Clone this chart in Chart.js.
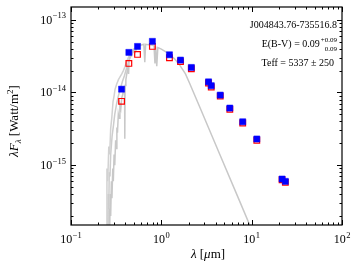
<!DOCTYPE html>
<html>
<head>
<meta charset="utf-8">
<script src="https://cdn.jsdelivr.net/npm/chart.js@4/dist/chart.umd.min.js"></script>
<style>
  html, body { margin: 0; padding: 0; background: #fff; }
  #wrap { width: 354px; height: 266px; }
</style>
</head>
<body>
<div id="wrap"><canvas id="sed" width="354" height="266"></canvas></div>
<script>
// Photometric bands (micron) and fluxes (W/m^2)
const bandWave = [0.363, 0.437, 0.545, 0.796, 1.23, 1.63, 2.15, 3.33, 3.57, 4.49, 5.73, 7.96, 11.4, 21.7, 23.6];
const observedFlux = [1.11e-14, 3.56e-14, 4.3e-14, 5.05e-14, 3.3e-14, 2.79e-14, 2.21e-14, 1.40e-14, 1.24e-14, 9.2e-15, 6.1e-15, 3.95e-15, 2.29e-15, 6.44e-16, 5.98e-16];
const modelFlux = [7.55e-15, 2.51e-14, 3.34e-14, 4.3e-14, 3.0e-14, 2.66e-14, 2.12e-14, 1.35e-14, 1.19e-14, 8.9e-15, 5.85e-15, 3.8e-15, 2.2e-15, 6.3e-16, 5.8e-16];

// Model spectrum (right edge of the grey band, and tail)
const specWave = [0.262, 0.266, 0.268, 0.272, 0.275, 0.280, 0.284, 0.290, 0.294, 0.300, 0.305, 0.312, 0.316, 0.322, 0.327,
  0.334, 0.340, 0.348, 0.356, 0.365, 0.375, 0.385, 0.392, 0.394, 0.397, 0.405, 0.420, 0.430, 0.434, 0.440, 0.450, 0.470, 0.490,
  0.517, 0.535, 0.560, 0.600, 0.640, 0.656, 0.670, 0.720, 0.780, 0.830, 0.850, 0.866, 0.890, 0.915, 0.935, 1.00, 1.17,
  1.40, 1.59, 1.71, 1.85, 2.05, 2.64, 4.43, 7.22, 9.6];
const specFlux = [1.0e-16, 2.5e-16, 1.2e-16, 4.0e-16, 2.0e-16, 6.0e-16, 3.5e-16, 9.0e-16, 6.0e-16, 1.4e-15, 1.0e-15, 2.2e-15, 1.7e-15, 3.3e-15, 2.8e-15,
  5.0e-15, 4.4e-15, 6.8e-15, 6.0e-15, 8.5e-15, 9.5e-15, 1.15e-14, 1.2e-14, 2.3e-15, 1.25e-14, 1.5e-14, 2.0e-14, 2.4e-14, 1.8e-14, 2.8e-14, 3.2e-14, 3.2e-14, 3.9e-14,
  3.6e-14, 4.2e-14, 4.4e-14, 4.5e-14, 4.6e-14, 2.6e-14, 4.6e-14, 4.55e-14, 4.5e-14, 4.4e-14, 2.5e-14, 4.3e-14, 2.3e-14, 4.15e-14, 4.1e-14, 3.95e-14, 3.5e-14,
  2.9e-14, 2.4e-14, 2.1e-14, 1.8e-14, 1.35e-14, 6.45e-15, 1.41e-15, 3.38e-16, 1.46e-16];

// Other grey traces of the band in the UV/blue (left edge, middle)
const spec2Wave = [0.249, 0.250, 0.255, 0.262, 0.268, 0.275, 0.283, 0.292, 0.300, 0.307, 0.320, 0.335, 0.350, 0.365, 0.380, 0.395, 0.420, 0.450, 0.490, 0.530, 0.570];
const spec2Flux = [1.0e-16, 9.0e-16, 6.0e-16, 1.8e-15, 1.4e-15, 3.2e-15, 4.5e-15, 7.5e-15, 9.0e-15, 1.1e-14, 1.3e-14, 1.5e-14, 1.65e-14, 1.8e-14, 2.0e-14, 2.25e-14, 2.8e-14, 3.4e-14, 3.9e-14, 4.2e-14, 4.45e-14];
const spec3Wave = [0.255, 0.258, 0.262, 0.265, 0.270, 0.275, 0.285, 0.295, 0.305, 0.320, 0.335, 0.350, 0.370, 0.390, 0.410, 0.440, 0.480, 0.520];
const spec3Flux = [1.0e-16, 4.0e-16, 2.5e-16, 8.0e-16, 7.0e-16, 1.4e-15, 2.5e-15, 3.5e-15, 5.0e-15, 7.0e-15, 9.0e-15, 1.1e-14, 1.4e-14, 1.7e-14, 2.1e-14, 2.8e-14, 3.5e-14, 4.0e-14];

// Axis limits and labelled ticks
const xLimits = [0.1, 100];
const yLimits = [1.5e-16, 1.5e-13];
const xTickValues = [0.1, 1, 10, 100];
const xTickExps = ['\u22121', '0', '1', '2'];
const yTickValues = [1e-13, 1e-14, 1e-15];
const yTickExps = ['\u221213', '\u221214', '\u221215'];

const SERIF = '"Liberation Serif", "DejaVu Serif", serif';

function pairs(xs, ys) {
    return xs.map((x, i) => ({ x: x, y: ys[i] }));
}

function greyLine(label, xs, ys, colour, order) {
    return {
        label: label,
        type: 'line',
        data: pairs(xs, ys),
        borderColor: colour,
        borderWidth: 1.5,
        pointRadius: 0,
        tension: 0,
        fill: false,
        order: order
    };
}

// Draw "10" with a raised exponent
function drawPower(ctx, exp, x, y, align) {
    ctx.font = '12px ' + SERIF;
    const wBase = ctx.measureText('10').width;
    ctx.font = '8.5px ' + SERIF;
    const wExp = ctx.measureText(exp).width;
    const total = wBase + wExp + 0.5;
    let x0 = x - total / 2;
    if (align === 'right') x0 = x - total;
    ctx.textAlign = 'left';
    ctx.textBaseline = 'alphabetic';
    ctx.font = '12px ' + SERIF;
    ctx.fillText('10', x0, y);
    ctx.font = '8.5px ' + SERIF;
    ctx.fillText(exp, x0 + wBase + 0.5, y - 5.5);
}

// draw a run of [text, font, dy] pieces starting at x
function drawRun(ctx, parts, x, y) {
    parts.forEach(p => {
        ctx.font = p[1] + ' ' + SERIF;
        ctx.fillText(p[0], x, y + (p[2] || 0));
        x += ctx.measureText(p[0]).width;
    });
}

function runWidth(ctx, parts) {
    let w = 0;
    parts.forEach(p => { ctx.font = p[1] + ' ' + SERIF; w += ctx.measureText(p[0]).width; });
    return w;
}

// matplotlib-like frame: inward ticks on every side, labels and titles
const framePlugin = {
    id: 'frame',
    afterDraw(chart) {
        const ctx = chart.ctx;
        const a = chart.chartArea;
        const xs = chart.scales.x;
        const ys = chart.scales.y;
        ctx.save();
        ctx.strokeStyle = '#000';
        ctx.fillStyle = '#000';
        ctx.lineWidth = 1;

        // x ticks
        for (let k = -1; k <= 2; k++) {
            for (let m = 1; m <= 9; m++) {
                const v = m * Math.pow(10, k);
                if (v < xLimits[0] * 0.999 || v > xLimits[1] * 1.001) continue;
                const px = Math.round(xs.getPixelForValue(v)) + 0.5;
                const len = m === 1 ? 5 : 2.5;
                ctx.beginPath();
                ctx.moveTo(px, a.bottom); ctx.lineTo(px, a.bottom - len);
                ctx.moveTo(px, a.top); ctx.lineTo(px, a.top + len);
                ctx.stroke();
            }
        }
        // y ticks
        for (let k = -17; k <= -13; k++) {
            for (let m = 1; m <= 9; m++) {
                const v = m * Math.pow(10, k);
                if (v < yLimits[0] * 0.999 || v > yLimits[1] * 1.001) continue;
                const py = Math.round(ys.getPixelForValue(v)) + 0.5;
                const len = m === 1 ? 5 : 2.5;
                ctx.beginPath();
                ctx.moveTo(a.left, py); ctx.lineTo(a.left + len, py);
                ctx.moveTo(a.right, py); ctx.lineTo(a.right - len, py);
                ctx.stroke();
            }
        }
        // box
        ctx.lineWidth = 1.2;
        ctx.strokeRect(a.left, a.top, a.right - a.left, a.bottom - a.top);

        // tick labels
        xTickValues.forEach((v, i) => {
            drawPower(ctx, xTickExps[i], xs.getPixelForValue(v), a.bottom + 18, 'center');
        });
        yTickValues.forEach((v, i) => {
            drawPower(ctx, yTickExps[i], a.left - 5, ys.getPixelForValue(v) + 4, 'right');
        });

        // x title: λ [μm]
        ctx.textAlign = 'left';
        ctx.textBaseline = 'alphabetic';
        const xParts = [['\u03bb', 'italic 13px'], [' [', '13px'], ['\u03bc', 'italic 13px'], ['m]', '13px']];
        drawRun(ctx, xParts, 208 - runWidth(ctx, xParts) / 2, 258);

        // y title: λF_λ [Watt/m²]
        ctx.translate(18, 121);
        ctx.rotate(-Math.PI / 2);
        const yParts = [['\u03bbF', 'italic 13px'], ['\u03bb', 'italic 9px', 3], [' [Watt/m', '13px'], ['2', '9px', -5.5], [']', '13px']];
        drawRun(ctx, yParts, -runWidth(ctx, yParts) / 2, 0);
        ctx.restore();

        // annotation, right aligned
        ctx.save();
        ctx.fillStyle = '#000';
        ctx.textBaseline = 'alphabetic';
        ctx.textAlign = 'right';
        ctx.font = '10px ' + SERIF;
        ctx.fillText('J004843.76-735516.8', 337, 28);
        ctx.fillText('Teff = 5337 \u00b1 250', 334, 66);
        ctx.font = '7px ' + SERIF;
        const wSup = ctx.measureText('+0.09').width;
        ctx.fillText('+0.09', 337, 42);
        ctx.fillText('0.09', 337, 51);
        ctx.font = '10px ' + SERIF;
        ctx.fillText('E(B-V) = 0.09', 337 - wSup - 1, 47);
        ctx.restore();
    }
};

new Chart(document.getElementById('sed'), {
    type: 'scatter',
    data: {
        datasets: [
            {
                label: 'observed',
                data: pairs(bandWave, observedFlux),
                pointStyle: 'rect',
                pointRadius: 4.3,
                backgroundColor: '#0000ff',
                borderColor: '#0000ff',
                borderWidth: 0.5,
                order: 0
            },
            {
                label: 'model',
                data: pairs(bandWave, modelFlux),
                pointStyle: 'rect',
                pointRadius: 4,
                backgroundColor: 'rgba(255,255,255,0)',
                borderColor: '#ff0000',
                borderWidth: 1.2,
                order: 1
            },
            greyLine('spectrum', specWave, specFlux, '#c8c8c8', 2),
            greyLine('spectrum 2', spec2Wave, spec2Flux, '#d2d2d2', 3),
            greyLine('spectrum 3', spec3Wave, spec3Flux, '#cdcdcd', 4)
        ]
    },
    options: {
        responsive: false,
        animation: false,
        events: [],
        layout: { padding: { left: 71, right: 12, top: 7, bottom: 41 } },
        plugins: { legend: { display: false }, tooltip: { enabled: false } },
        scales: {
            x: { type: 'logarithmic', min: xLimits[0], max: xLimits[1], display: false },
            y: { type: 'logarithmic', min: yLimits[0], max: yLimits[1], display: false }
        }
    },
    plugins: [framePlugin]
});
</script>
</body>
</html>
